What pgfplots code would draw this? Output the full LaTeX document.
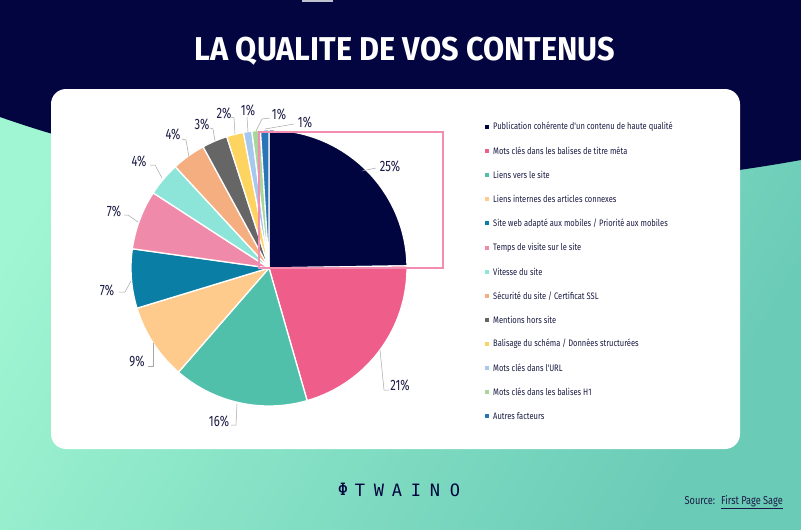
\documentclass[border=0pt]{standalone}
\usepackage{pgfplots}
\pgfplotsset{compat=1.18}
\usepackage{fontspec}
\setmainfont{Fira Sans}
\newfontfamily\titlefont[FakeStretch=0.93]{Fira Sans}
\newfontfamily\condfont[FakeStretch=0.75]{Fira Sans}
\newfontfamily\legfont[FakeStretch=0.8]{Fira Sans}
\newfontfamily\logofont{DejaVu Sans Mono}

\definecolor{navy}{HTML}{02053F}
\definecolor{txt}{HTML}{1B1B45}
\definecolor{mintL}{HTML}{A0F6D2}
\definecolor{mintR}{HTML}{6ACBB7}
\definecolor{boxpink}{HTML}{F08DB0}
\definecolor{c1}{HTML}{00053F}
\definecolor{c2}{HTML}{EF5E8B}
\definecolor{c3}{HTML}{50C0AA}
\definecolor{c4}{HTML}{FECB8C}
\definecolor{c5}{HTML}{0A7EA4}
\definecolor{c6}{HTML}{F08AAA}
\definecolor{c7}{HTML}{8DE5DA}
\definecolor{c8}{HTML}{F5AE7F}
\definecolor{c9}{HTML}{666666}
\definecolor{c10}{HTML}{FDD460}
\definecolor{c11}{HTML}{A5C8EC}
\definecolor{c12}{HTML}{A8D59A}
\definecolor{c13}{HTML}{2A74B8}

\newcommand\leg[3]{% y, colour, text
  \fill[#2] (axis cs:485,#1-2) rectangle (axis cs:489,#1+2);
  \node[anchor=west, inner sep=0pt, txt, font=\legfont\fontsize{9.4}{10}\selectfont] at (axis cs:493,#1) {#3};}

\begin{document}
\begin{tikzpicture}
\begin{axis}[
    scale only axis, width=801pt, height=530pt,
    xmin=0, xmax=801, ymin=0, ymax=530,
    y dir=reverse, hide axis, clip=false,
]
% background
\shade[left color=mintL, right color=mintR, shading angle=60] (axis cs:0,0) rectangle (axis cs:801,530);
\fill[navy] (axis cs:0,0) -- (axis cs:0,117) .. controls (axis cs:250,205) and (axis cs:550,205) .. (axis cs:801,160) -- (axis cs:801,0) -- cycle;
\fill[white!75!navy] (axis cs:302,0) rectangle (axis cs:333,1.5);
\fill[white, rounded corners=15pt] (axis cs:51,89) rectangle (axis cs:740,449);
\node[white, font=\titlefont\bfseries\fontsize{33}{33}\selectfont] at (axis cs:405,51) {LA QUALITE DE VOS CONTENUS};

% pie slices (values in %)
\pgfmathsetmacro\f{360/101}
\xdef\cum{0}
\foreach \v/\c in {25/c1,21/c2,16/c3,9/c4,7/c5,7/c6,4/c7,4/c8,3/c9,2/c10,1/c11,1/c12,1/c13} {
    \pgfmathsetmacro\a{90-\cum*\f}
    \pgfmathsetmacro\b{90-(\cum+\v)*\f}
    \edef\temp{\noexpand\fill[\c, draw=white, line width=1.3pt, line join=round] (axis cs:269,268) -- ++(\a:138pt) arc[start angle=\a, end angle=\b, radius=138pt] -- cycle;}
    \temp
    \pgfmathsetmacro\n{\cum+\v}
    \xdef\cum{\n}
}
% highlight box
\draw[boxpink, line width=2pt] (axis cs:259,132) rectangle (axis cs:443,268);

% leader lines
\draw[gray!70, line width=0.5pt] (axis cs:362,171) -- (axis cs:376,168);
\draw[gray!70, line width=0.5pt] (axis cs:380,350) -- (axis cs:384,390) -- (axis cs:389,390);
\draw[gray!70, line width=0.5pt] (axis cs:237,404) -- (axis cs:236,425) -- (axis cs:231,425);
\draw[gray!70, line width=0.5pt] (axis cs:153,343) -- (axis cs:153,366) -- (axis cs:148,366);
\draw[gray!70, line width=0.5pt] (axis cs:131,281) -- (axis cs:125,292) -- (axis cs:119,292);
\draw[gray!70, line width=0.5pt] (axis cs:138,222) -- (axis cs:128,215) -- (axis cs:124,215);
\draw[gray!70, line width=0.5pt] (axis cs:162,178) -- (axis cs:155,165) -- (axis cs:150,165);
\draw[gray!70, line width=0.5pt] (axis cs:189,157) -- (axis cs:186,140) -- (axis cs:182,139);
\draw[gray!70, line width=0.5pt] (axis cs:215,141) -- (axis cs:213,129) -- (axis cs:210,128);
\draw[gray!70, line width=0.5pt] (axis cs:235,134) -- (axis cs:234,118) -- (axis cs:231,117);
\draw[gray!70, line width=0.5pt] (axis cs:248,132) -- (axis cs:247,117);
\draw[gray!70, line width=0.5pt] (axis cs:256,131) -- (axis cs:262,119) -- (axis cs:270,118);
\draw[gray!70, line width=0.5pt] (axis cs:265,129) -- (axis cs:294,124);

% slice labels
\begin{scope}[every node/.style={txt, font=\condfont\fontsize{15}{15}\selectfont, inner sep=0pt}]
\node at (axis cs:390,166) {25\%};
\node at (axis cs:400,385) {21\%};
\node at (axis cs:219,421) {16\%};
\node at (axis cs:137,361) {9\%};
\node at (axis cs:107,290) {7\%};
\node at (axis cs:114,211) {7\%};
\node at (axis cs:139,161) {4\%};
\node at (axis cs:173,134) {4\%};
\node at (axis cs:202,124) {3\%};
\node at (axis cs:224,113) {2\%};
\node at (axis cs:248,110) {1\%};
\node at (axis cs:279,114) {1\%};
\node at (axis cs:305,122) {1\%};
\end{scope}

% legend
\leg{127}{c1}{Publication cohérente d'un contenu de haute qualité}
\leg{151.1}{c2}{Mots clés dans les balises de titre méta}
\leg{175.2}{c3}{Liens vers le site}
\leg{199.3}{c4}{Liens internes des articles connexes}
\leg{223.4}{c5}{Site web adapté aux mobiles / Priorité aux mobiles}
\leg{247.5}{c6}{Temps de visite sur le site}
\leg{271.6}{c7}{Vitesse du site}
\leg{295.7}{c8}{Sécurité du site / Certificat SSL}
\leg{319.8}{c9}{Mentions hors site}
\leg{343.9}{c10}{Balisage du schéma / Données structurées}
\leg{368}{c11}{Mots clés dans l'URL}
\leg{392.1}{c12}{Mots clés dans les balises H1}
\leg{416.2}{c13}{Autres facteurs}

% footer
\begin{scope}[every node/.style={navy, font=\logofont\fontsize{17}{17}\selectfont, inner sep=0pt}]
\node at (axis cs:343,489) {Φ};
\node at (axis cs:360,490) {T};
\node at (axis cs:379,490) {W};
\node at (axis cs:397,490) {A};
\node at (axis cs:416,490) {I};
\node at (axis cs:435,490) {N};
\node at (axis cs:455,490) {O};
\end{scope}
\node[anchor=east, inner sep=0pt, txt, font=\legfont\fontsize{11.5}{12}\selectfont] at (axis cs:783,502) {Source:\hspace{6pt}\underline{First Page Sage}};
\end{axis}
\end{tikzpicture}
\end{document}
